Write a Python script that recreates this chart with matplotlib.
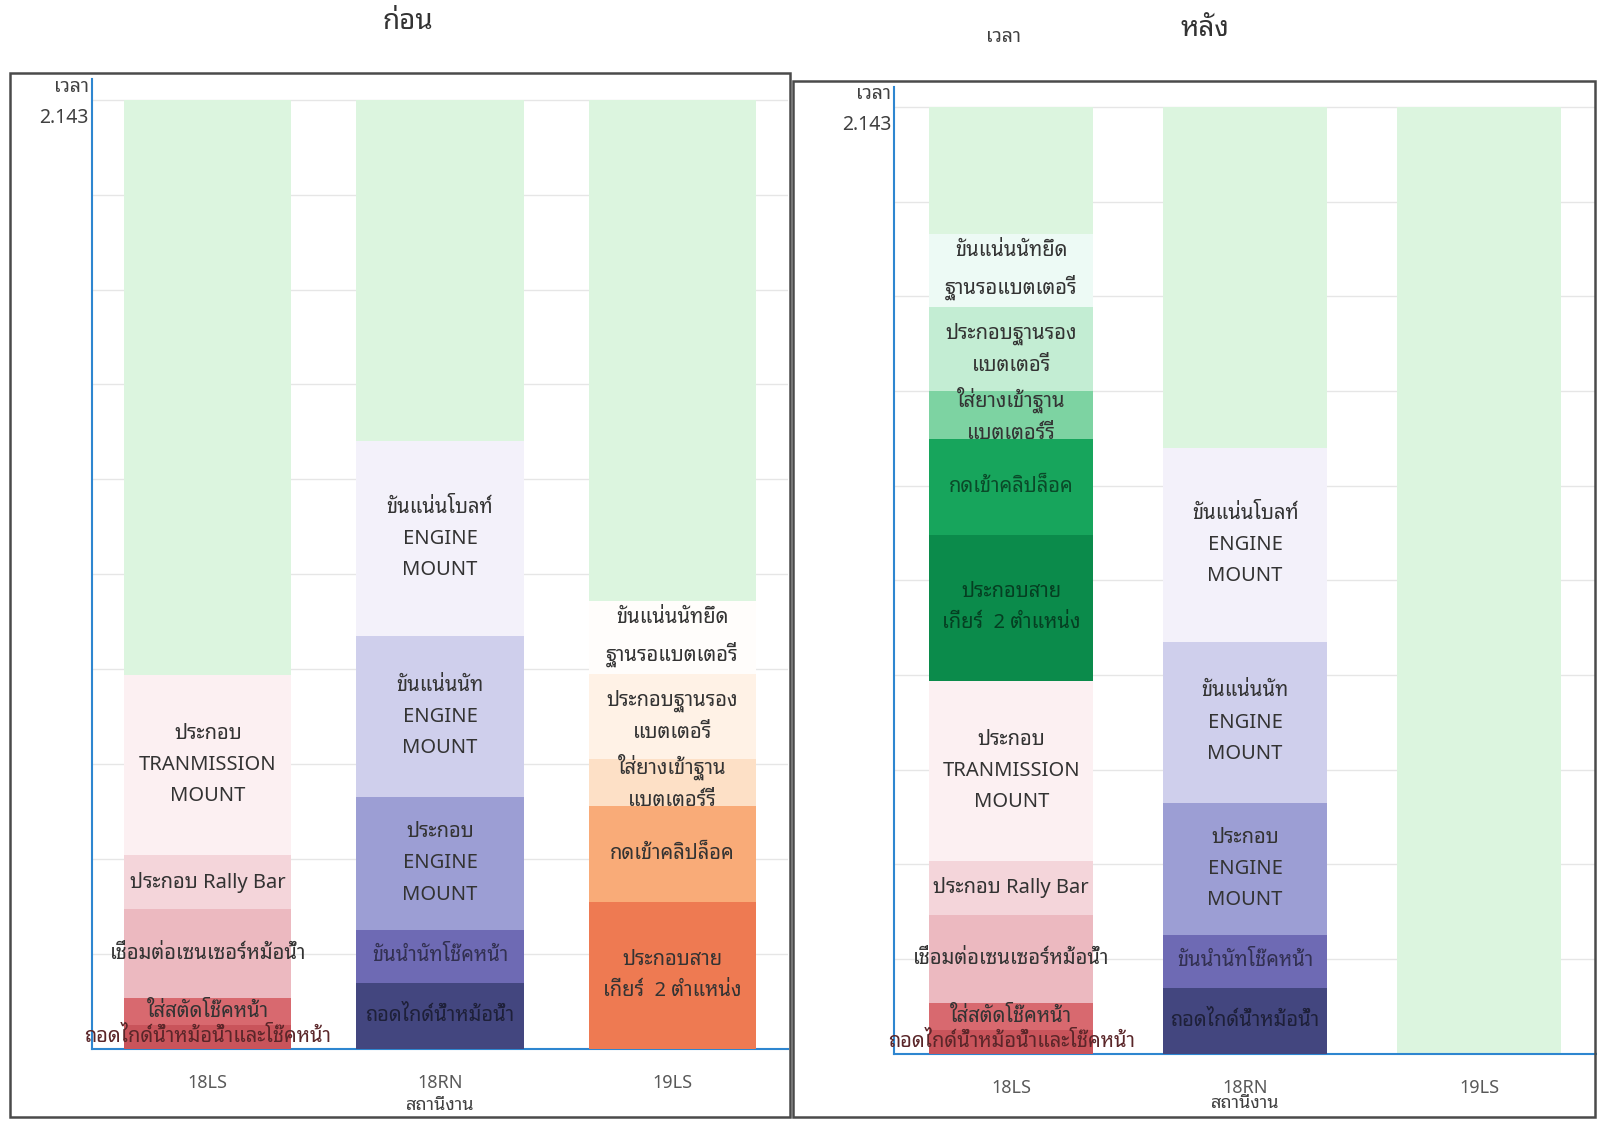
import numpy as np
import matplotlib
matplotlib.use('Agg')
import matplotlib.pyplot as plt
from matplotlib.patches import Rectangle
from matplotlib.colors import to_rgb

plt.rcParams['font.family'] = ['Noto Sans Thai Looped', 'DejaVu Sans']

# data (time per task, bottom -> top)
stations = ['18LS', '18RN', '19LS']
takt = 2.143

tasks_18LS = ['ถอดไกด์น้ำหม้อน้ำและโช๊คหน้า', 'ใส่สตัดโช๊คหน้า', 'เชื่อมต่อเซนเซอร์หม้อน้ำ',
              'ประกอบ Rally Bar', 'ประกอบ\nTRANMISSION\nMOUNT']
times_18LS = [0.053, 0.062, 0.200, 0.122, 0.407]

tasks_18RN = ['ถอดไกด์น้ำหม้อน้ำ', 'ขันนำนัทโช๊คหน้า', 'ประกอบ\nENGINE\nMOUNT',
              'ขันแน่นนัท\nENGINE\nMOUNT', 'ขันแน่นโบลท์\nENGINE\nMOUNT']
times_18RN = [0.149, 0.120, 0.299, 0.363, 0.441]

tasks_19LS = ['ประกอบสาย\nเกียร์  2 ตำแหน่ง', 'กดเข้าคลิปล็อค', 'ใส่ยางเข้าฐาน\nแบตเตอร์รี่',
              'ประกอบฐานรอง\nแบตเตอรี่', 'ขันแน่นนัทยึด\nฐานรอแบตเตอรี่']
times_19LS = [0.331, 0.216, 0.108, 0.191, 0.166]

# colours
red_cols = ['#c9545b', '#d8696f', '#ecb9c0', '#f4d5da', '#fcf0f2']
blue_cols = ['#43467f', '#6e6ab4', '#9c9ed4', '#cfcfec', '#f3f1fa']
orange_cols = ['#ee7a52', '#f9ab78', '#fde0c6', '#fff2e6', '#fffdfb']
green_cols = ['#0b8b4b', '#17a55c', '#7dd3a2', '#c3edd3', '#edfaf5']
bg_col = '#dcf5df'

before = [(tasks_18LS, times_18LS, red_cols),
          (tasks_18RN, times_18RN, blue_cols),
          (tasks_19LS, times_19LS, orange_cols)]
after = [(tasks_18LS + tasks_19LS, times_18LS + times_19LS, red_cols + green_cols),
         (tasks_18RN, times_18RN, blue_cols),
         ([], [], [])]

W, H = 1568, 1101
fig = plt.figure(figsize=(15.97, 11.21), dpi=100)


def text_col(c):
    r, g, b = to_rgb(c)
    lum = 0.299 * r + 0.587 * g + 0.114 * b
    if lum < 0.5:
        return (r * 0.45, g * 0.45, b * 0.45)
    return '#333333'


def panel(rect, data, width, xlab_y):
    ax = fig.add_axes(rect)
    x = np.arange(len(stations))
    ax.bar(x, [takt] * len(stations), width=width, color=bg_col, zorder=2)
    for i, (tasks, times, cols) in enumerate(data):
        bottom = 0
        for t, v, c in zip(tasks, times, cols):
            ax.bar(x[i], v, bottom=bottom, width=width, color=c, zorder=3)
            ax.text(x[i], bottom + v / 2, t, ha='center', va='center', fontsize=14.5,
                    color=text_col(c), linespacing=1.75, zorder=4)
            bottom += v
    ax.set_xlim(-0.5, 2.5)
    ax.set_ylim(0, 2.189)
    ax.set_yticks(np.arange(11) * takt / 10)
    ax.set_yticklabels([])
    ax.tick_params(axis='y', length=0)
    ax.set_xticks(x)
    ax.set_xticklabels(stations, fontsize=13, color='#595959')
    ax.tick_params(axis='x', length=0, pad=18)
    ax.grid(axis='y', color='#e6e6e6', lw=1, zorder=0)
    for s in ['top', 'right']:
        ax.spines[s].set_visible(False)
    for s in ['left', 'bottom']:
        ax.spines[s].set_color('#2e86d0')
        ax.spines[s].set_linewidth(1.5)
    ax.text(-0.004, 0.992, 'เวลา', transform=ax.transAxes, ha='right', va='center',
            fontsize=14, color='#404040')
    ax.text(-0.004, 0.960, '%.3f' % takt, transform=ax.transAxes, ha='right', va='center',
            fontsize=14, color='#404040')
    ax.text(0.5, xlab_y, 'สถานีงาน', transform=ax.transAxes, ha='center', va='center',
            fontsize=13, color='#404040')
    return ax


panel([90 / W, 1 - 1030 / H, 684 / W, 952 / H], before, 0.72, -0.058)
panel([878 / W, 1 - 1035 / H, 689 / W, 950 / H], after, 0.70, -0.051)

# chart borders
fig.patches.append(Rectangle((10 / W, 1 - 1097 / H), 766 / W, 1025 / H, transform=fig.transFigure,
                             fill=False, edgecolor='#4a4a4a', lw=1.8))
fig.patches.append(Rectangle((779 / W, 1 - 1097 / H), 787 / W, 1017 / H, transform=fig.transFigure,
                             fill=False, edgecolor='#4a4a4a', lw=1.8))

fig.text(400 / W, 1 - 22 / H, 'ก่อน', ha='center', va='center', fontsize=20, color='#333333')
fig.text(1183 / W, 1 - 28 / H, 'หลัง', ha='center', va='center', fontsize=20, color='#333333')
fig.text(985 / W, 1 - 36 / H, 'เวลา', ha='center', va='center', fontsize=14, color='#404040')

fig.savefig('out.png')
